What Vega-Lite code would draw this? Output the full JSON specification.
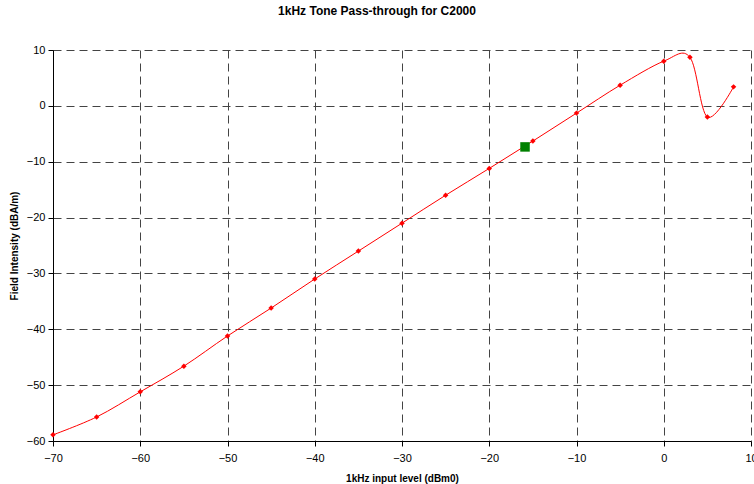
{
  "$schema": "https://vega.github.io/schema/vega-lite/v6.json",
  "width": 698,
  "height": 391,
  "autosize": {"type": "none"},
  "padding": {"left": 53, "top": 50, "right": 3, "bottom": 43},
  "background": "white",
  "title": {
    "text": "1kHz Tone Pass-through for C2000",
    "font": "Liberation Sans",
    "fontSize": 12,
    "fontWeight": "bold",
    "color": "black",
    "anchor": "middle",
    "frame": "group",
    "dx": -25,
    "offset": 26
  },
  "config": {
    "view": {"stroke": null},
    "axis": {
      "labelFont": "Liberation Sans",
      "labelFontSize": 11,
      "labelColor": "black",
      "labelFlush": false,
      "labelOverlap": false,
      "labelBound": false,
      "titleFont": "Liberation Sans",
      "titleFontSize": 10,
      "titleFontWeight": "bold",
      "titleColor": "black",
      "domainColor": "black",
      "tickColor": "black",
      "tickSize": 5,
      "gridColor": "#444444",
      "gridDash": [8, 5],
      "gridOpacity": 1,
      "gridWidth": 1
    }
  },
  "datasets": {
    "series": [
      {"level": -70, "intensity": -58.9},
      {"level": -65, "intensity": -55.7},
      {"level": -60, "intensity": -51.2},
      {"level": -55, "intensity": -46.6},
      {"level": -50, "intensity": -41.2},
      {"level": -45, "intensity": -36.2},
      {"level": -40, "intensity": -31.0},
      {"level": -35, "intensity": -26.0},
      {"level": -30, "intensity": -21.0},
      {"level": -25, "intensity": -16.0},
      {"level": -20, "intensity": -11.2},
      {"level": -15, "intensity": -6.3},
      {"level": -10, "intensity": -1.3},
      {"level": -5, "intensity": 3.7},
      {"level": 0, "intensity": 8.0},
      {"level": 3, "intensity": 8.7},
      {"level": 5, "intensity": -2.0},
      {"level": 8, "intensity": 3.4}
    ],
    "marker": [
      {"level": -15.9, "intensity": -7.35}
    ]
  },
  "layer": [
    {
      "data": {"name": "series"},
      "mark": {"type": "line", "color": "#ff0000", "strokeWidth": 1, "interpolate": "cardinal", "tension": 0},
      "encoding": {
        "x": {
          "field": "level", "type": "quantitative",
          "scale": {"domain": [-70, 10], "nice": false, "zero": false},
          "axis": {"title": "1kHz input level (dBm0)", "values": [-70, -60, -50, -40, -30, -20, -10, 0, 10], "labelPadding": 6, "titlePadding": 10}
        },
        "y": {
          "field": "intensity", "type": "quantitative",
          "scale": {"domain": [-60, 10], "nice": false, "zero": false},
          "axis": {"title": "Field Intensity (dBA/m)", "values": [-60, -50, -40, -30, -20, -10, 0, 10], "labelPadding": 3, "titlePadding": 7}
        }
      }
    },
    {
      "data": {"name": "series"},
      "mark": {"type": "point", "shape": "diamond", "filled": true, "color": "#ff0000", "size": 30, "opacity": 1},
      "encoding": {
        "x": {"field": "level", "type": "quantitative"},
        "y": {"field": "intensity", "type": "quantitative"}
      }
    },
    {
      "data": {"name": "marker"},
      "mark": {"type": "square", "filled": true, "color": "#008000", "size": 90, "opacity": 1},
      "encoding": {
        "x": {"field": "level", "type": "quantitative"},
        "y": {"field": "intensity", "type": "quantitative"}
      }
    }
  ]
}
